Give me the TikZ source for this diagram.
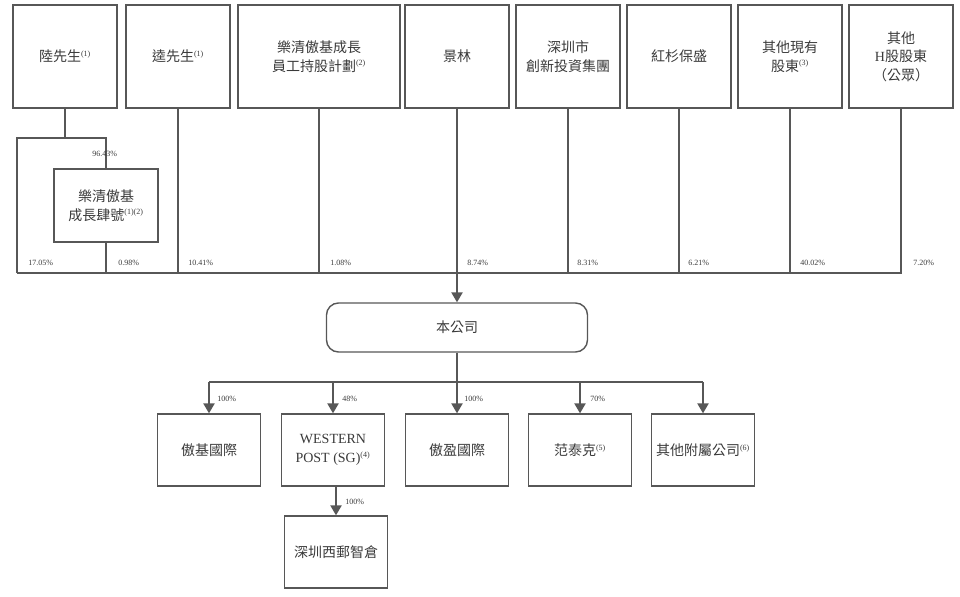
\documentclass[tikz,border=0pt]{standalone}
\usepackage{fontspec}
\setmainfont{Liberation Serif}
\newfontfamily\cjk{Noto Sans CJK TC}
\usetikzlibrary{arrows.meta}
\definecolor{chartline}{HTML}{575757}
\definecolor{chartink}{HTML}{3A3A3A}
\newcommand{\noteref}[1]{\textsuperscript{\rmfamily\fontsize{6}{6}\selectfont #1}}

\begin{document}
\begin{tikzpicture}[
  x=0.75pt, y=-0.75pt,
  font=\cjk\fontsize{10.5}{14}\selectfont,
  >={Triangle[width=8.5pt,length=7.5pt]},
  holder/.style={draw=chartline, line width=1.05pt, text=chartink,
    minimum width=78pt, minimum height=77.25pt, align=center, inner sep=1pt},
  subsid/.style={draw=chartline, line width=1.05pt, text=chartink,
    minimum width=77.25pt, minimum height=54pt, align=center, inner sep=1pt},
  issuer/.style={draw=chartline, line width=1.05pt, text=chartink,
    rounded corners=9pt, minimum width=195.75pt, minimum height=36.75pt},
  link/.style={draw=chartline, line width=1.05pt},
  pct/.style={font=\rmfamily\fontsize{6}{6}\selectfont, text=chartink,
    anchor=west, inner sep=0pt}
]
\useasboundingbox (0,0) rectangle (960,596);

\node[holder] (lu) at (65,56.5) {陸先生\noteref{(1)}};
\node[holder] (kui) at (178,56.5) {逵先生\noteref{(1)}};
\node[holder, minimum width=121.5pt] (plan) at (319,56.5)
  {樂清傲基成長\\員工持股計劃\noteref{(2)}};
\node[holder] (jinglin) at (457,56.5) {景林};
\node[holder] (szcx) at (568,56.5) {深圳市\\創新投資集團};
\node[holder] (hongshan) at (679,56.5) {紅杉保盛};
\node[holder] (others) at (790,56.5) {其他現有\\股東\noteref{(3)}};
\node[holder] (hshare) at (901,56.5) {其他\\{\rmfamily H}股股東\\（公眾）};

\node[holder, minimum height=54.75pt] (lusub) at (106,205.5)
  {樂清傲基\\成長肆號\noteref{(1)(2)}};

\node[issuer] (company) at (457,327.5) {本公司};

\node[subsid] (aoji) at (209,450) {傲基國際};
\node[subsid, font=\rmfamily\fontsize{10.5}{14}\selectfont] (wpost) at (333,450)
  {WESTERN\\POST (SG)\noteref{(4)}};
\node[subsid] (aoying) at (457,450) {傲盈國際};
\node[subsid] (fantaike) at (580,450) {范泰克\noteref{(5)}};
\node[subsid] (othersub) at (703,450) {其他附屬公司\noteref{(6)}};
\node[subsid] (xiyou) at (336,552) {深圳西郵智倉};

\coordinate (busL) at (17,273);
\coordinate (busR) at (901,273);
\coordinate (luknee) at (65,138);
\coordinate (subbus) at (209,382);

\draw[link] (lu.south) -- (luknee);
\draw[link] (busL) |- (lusub.north |- luknee) -- (lusub.north);
\draw[link] (lusub.south) -- (lusub.south |- busL);
\draw[link] (kui.south) -- (kui.south |- busL);
\draw[link] (plan.south) -- (plan.south |- busL);
\draw[link] (szcx.south) -- (szcx.south |- busL);
\draw[link] (hongshan.south) -- (hongshan.south |- busL);
\draw[link] (others.south) -- (others.south |- busL);
\draw[link] (busL) -- (busR) -- (hshare.south);
\draw[link, ->] (jinglin.south) -- (company.north);

\draw[link] (company.south) -- (company.south |- subbus);
\draw[link] (subbus) -- (othersub.north |- subbus);
\draw[link, ->] (aoji.north |- subbus) -- (aoji.north);
\draw[link, ->] (wpost.north |- subbus) -- (wpost.north);
\draw[link, ->] (aoying.north |- subbus) -- (aoying.north);
\draw[link, ->] (fantaike.north |- subbus) -- (fantaike.north);
\draw[link, ->] (othersub.north |- subbus) -- (othersub.north);
\draw[link, ->] (xiyou.north |- wpost.south) -- (xiyou.north);

\node[pct] (pctlusub) at (92,154) {96.43\%};
\node[pct] (pctlu) at (28,263) {17.05\%};
\node[pct] (pctsub) at (118,263) {0.98\%};
\node[pct] (pctkui) at (188,263) {10.41\%};
\node[pct] (pctplan) at (330,263) {1.08\%};
\node[pct] (pctjinglin) at (467,263) {8.74\%};
\node[pct] (pctszcx) at (577,263) {8.31\%};
\node[pct] (pcthongshan) at (688,263) {6.21\%};
\node[pct] (pctothers) at (800,263) {40.02\%};
\node[pct] (pcthshare) at (913,263) {7.20\%};

\node[pct] (pctaoji) at (217,399) {100\%};
\node[pct] (pctwpost) at (342,399) {48\%};
\node[pct] (pctaoying) at (464,399) {100\%};
\node[pct] (pctfantaike) at (590,399) {70\%};
\node[pct] (pctxiyou) at (345,502) {100\%};
\end{tikzpicture}
\end{document}
